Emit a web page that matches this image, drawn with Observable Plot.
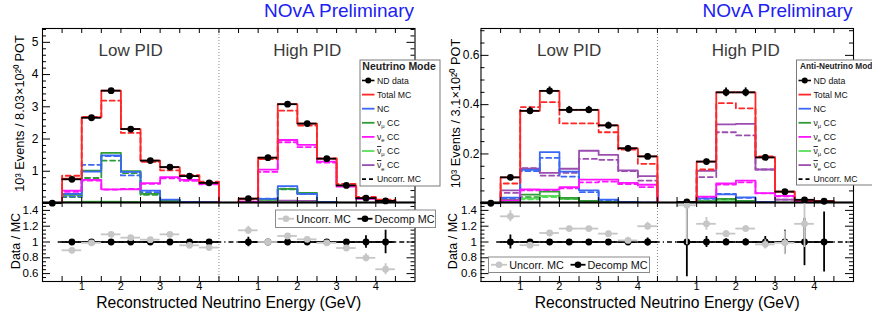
<!DOCTYPE html>
<html><head><meta charset="utf-8">
<script src="https://cdn.jsdelivr.net/npm/d3@7"></script>
<script src="https://cdn.jsdelivr.net/npm/@observablehq/plot@0.6"></script>
<style>
body{margin:0;background:#fff;font-family:"Liberation Sans",Arial,sans-serif;}
#root{position:relative;width:872px;height:320px;overflow:hidden;background:#fff;}
#root svg{position:absolute;}
</style></head><body><div id="root"></div>
<script>
// ---------- binning / axis ----------
const binLo = [0, 0.5, 1, 1.5, 2, 2.5, 3, 3.5, 4];
const binW = 0.5;
const sectionOffsets = [0, 4.5];
const sectionCenters = [2.25, 6.75];
const sectionLabels = ["Low PID", "High PID"];
const dividerX = [4.5];
const xDomain = [0, 9.5];
const xTickPos = [1, 2, 3, 4, 5.5, 6.5, 7.5, 8.5];
const xTickLabels = ["1", "2", "3", "4", "1", "2", "3", "4"];
const xMinorTicks = [0.5,1,1.5,2,2.5,3,3.5,4,4.5,5,5.5,6,6.5,7,7.5,8,8.5,9];
const refLineX = [0.4, 9.5];
const ratioYDomain = [0.5, 1.5];
const ratioYTicks = [0.6, 0.8, 1, 1.2, 1.4];
const ratioYLabels = ["0.6", "0.8", "1", "1.2", "1.4"];

// ---------- Neutrino mode, Low PID ----------
const nuLowData     = [0.01, 0.75, 2.66, 3.50, 2.31, 1.33, 1.13, 0.85, 0.64];
const nuLowErr      = [0, 0.02, 0.04, 0.05, 0.04, 0.03, 0.03, 0.03, 0.02];
const nuLowTotal    = [0, 0.77, 2.67, 3.50, 2.31, 1.33, 1.12, 0.85, 0.64];
const nuLowUncorr   = [0, 0.86, 2.69, 3.19, 2.19, 1.29, 1.03, 0.88, 0.68];
const nuLowNC       = [0, 0.30, 0.99, 1.49, 0.98, 0.40, 0.12, 0.05, 0.03];
const nuLowNCU      = [0, 0.22, 1.20, 1.47, 0.87, 0.35, 0.10, 0.04, 0.03];
const nuLowNumu     = [0, 0.27, 1.02, 1.57, 1.00, 0.30, 0.08, 0.03, 0.02];
const nuLowNumuU    = [0, 0.20, 0.79, 1.33, 0.94, 0.27, 0.07, 0.03, 0.02];
const nuLowNue      = [0, 0.40, 0.73, 0.44, 0.44, 0.63, 0.82, 0.73, 0.61];
const nuLowNueU     = [0, 0.36, 0.71, 0.43, 0.45, 0.61, 0.78, 0.70, 0.59];
const nuLowNumubar  = [0, 0.03, 0.06, 0.06, 0.05, 0.03, 0.02, 0.01, 0.01];
const nuLowNumubarU = [0, 0.03, 0.05, 0.05, 0.05, 0.03, 0.02, 0.01, 0.01];
const nuLowNuebar   = [0, 0.02, 0.04, 0.04, 0.04, 0.05, 0.06, 0.05, 0.04];
const nuLowNuebarU  = [0, 0.02, 0.04, 0.04, 0.04, 0.05, 0.05, 0.05, 0.04];
// ---------- Neutrino mode, High PID ----------
const nuHighData     = [null, 0.15, 1.42, 3.08, 2.48, 1.39, 0.56, 0.165, 0.08];
const nuHighErr      = [0, 0.01, 0.03, 0.05, 0.04, 0.03, 0.02, 0.01, 0.01];
const nuHighTotal    = [0, 0.15, 1.42, 3.08, 2.48, 1.39, 0.56, 0.165, 0.08];
const nuHighUncorr   = [0, 0.13, 1.38, 2.88, 2.42, 1.40, 0.61, 0.20, 0.12];
const nuHighNC       = [0, 0.02, 0.14, 0.54, 0.30, 0.05, 0.02, 0.01, 0];
const nuHighNCU      = [0, 0.02, 0.15, 0.46, 0.29, 0.05, 0.02, 0.01, 0];
const nuHighNumu     = [0, 0.02, 0.11, 0.45, 0.33, 0.04, 0.01, 0, 0];
const nuHighNumuU    = [0, 0.02, 0.12, 0.44, 0.31, 0.04, 0.01, 0, 0];
const nuHighNue      = [0, 0.06, 1.05, 1.97, 1.82, 1.30, 0.52, 0.14, 0.07];
const nuHighNueU     = [0, 0.05, 0.98, 1.90, 1.75, 1.27, 0.54, 0.16, 0.08];
const nuHighNumubar  = [0, 0, 0.02, 0.03, 0.03, 0.01, 0, 0, 0];
const nuHighNumubarU = [0, 0, 0.02, 0.03, 0.03, 0.01, 0, 0, 0];
const nuHighNuebar   = [0, 0.01, 0.05, 0.09, 0.08, 0.05, 0.02, 0.01, 0];
const nuHighNuebarU  = [0, 0.01, 0.05, 0.08, 0.07, 0.05, 0.02, 0.01, 0];
// ---------- Neutrino mode ratios ----------
const nuLowRatioU      = [null, 0.895, 0.99, 1.097, 1.055, 1.03, 1.097, 0.958, 0.93];
const nuLowRatioUErr   = [0, 0.02, 0.02, 0.02, 0.02, 0.02, 0.02, 0.02, 0.02];
const nuLowRatioD      = [null, 1, 1, 1, 1, 1, 1, 1, 1];
const nuLowRatioDErr   = [0, 0.02, 0.015, 0.015, 0.015, 0.02, 0.02, 0.02, 0.02];
const nuHighRatioU     = [null, 1.148, 1.0, 1.076, 1.034, 0.99, 0.924, 0.80, 0.655];
const nuHighRatioUErr  = [0, 0.05, 0.02, 0.02, 0.02, 0.02, 0.03, 0.05, 0.07];
const nuHighRatioD     = [null, 1, 1, 1, 1, 1, 1, 1, 1];
const nuHighRatioDErr  = [0, 0.06, 0.02, 0.015, 0.015, 0.02, 0.03, 0.08, 0.15];

// ---------- Anti-neutrino mode, Low PID ----------
const anLowData     = [0, 0.105, 0.375, 0.456, 0.379, 0.379, 0.316, 0.223, 0.19];
const anLowErr      = [0, 0.008, 0.014, 0.016, 0.014, 0.014, 0.013, 0.011, 0.01];
const anLowTotal    = [0, 0.105, 0.375, 0.456, 0.379, 0.379, 0.316, 0.223, 0.19];
const anLowUncorr   = [0, 0.080, 0.39, 0.41, 0.324, 0.324, 0.288, 0.218, 0.16];
const anLowNC       = [0, 0.023, 0.135, 0.207, 0.128, 0.052, 0.015, 0.005, 0.002];
const anLowNCU      = [0, 0.020, 0.130, 0.184, 0.108, 0.045, 0.013, 0.005, 0.002];
const anLowNumu     = [0, 0.014, 0.035, 0.047, 0.022, 0.010, 0.004, 0.002, 0.001];
const anLowNumuU    = [0, 0.010, 0.025, 0.030, 0.018, 0.008, 0.003, 0.001, 0.001];
const anLowNue      = [0, 0.012, 0.056, 0.055, 0.065, 0.096, 0.096, 0.083, 0.075];
const anLowNueU     = [0, 0.010, 0.052, 0.050, 0.060, 0.085, 0.088, 0.078, 0.065];
const anLowNumubar  = [0, 0.008, 0.020, 0.030, 0.020, 0.008, 0.003, 0.001, 0];
const anLowNumubarU = [0, 0.006, 0.016, 0.025, 0.017, 0.007, 0.003, 0.001, 0];
const anLowNuebar   = [0, 0.052, 0.140, 0.123, 0.140, 0.213, 0.196, 0.133, 0.110];
const anLowNuebarU  = [0, 0.042, 0.142, 0.112, 0.123, 0.180, 0.176, 0.130, 0.092];
// ---------- Anti-neutrino mode, High PID ----------
const anHighData     = [null, 0.005, 0.169, 0.45, 0.45, 0.186, 0.047, 0.014, 0.008];
const anHighErr      = [0, 0.003, 0.010, 0.018, 0.018, 0.011, 0.006, 0.003, 0.002];
const anHighTotal    = [0, 0.005, 0.169, 0.45, 0.45, 0.186, 0.047, 0.014, 0.008];
const anHighUncorr   = [0, 0.0035, 0.137, 0.406, 0.385, 0.19, 0.047, 0.011, 0.008];
const anHighNC       = [0, 0.001, 0.020, 0.036, 0.024, 0.005, 0.001, 0, 0];
const anHighNCU      = [0, 0.001, 0.018, 0.038, 0.022, 0.005, 0.001, 0, 0];
const anHighNumu     = [0, 0, 0.008, 0.018, 0.010, 0.002, 0, 0, 0];
const anHighNumuU    = [0, 0, 0.007, 0.016, 0.009, 0.002, 0, 0, 0];
const anHighNue      = [0, 0.001, 0.027, 0.080, 0.092, 0.041, 0.030, 0.008, 0.005];
const anHighNueU     = [0, 0.001, 0.025, 0.076, 0.085, 0.040, 0.028, 0.007, 0.005];
const anHighNumubar  = [0, 0, 0.004, 0.008, 0.006, 0.002, 0, 0, 0];
const anHighNumubarU = [0, 0, 0.004, 0.007, 0.005, 0.002, 0, 0, 0];
const anHighNuebar   = [0, 0.002, 0.131, 0.320, 0.322, 0.137, 0.015, 0.004, 0.002];
const anHighNuebarU  = [0, 0.002, 0.106, 0.288, 0.275, 0.137, 0.015, 0.004, 0.002];
// ---------- Anti-neutrino mode ratios ----------
const anLowRatioU     = [null, 1.325, 0.96, 1.114, 1.17, 1.17, 1.106, 1.02, 1.2];
const anLowRatioUErr  = [0, 0.07, 0.03, 0.03, 0.03, 0.03, 0.03, 0.04, 0.05];
const anLowRatioD     = [null, 1, 1, 1, 1, 1, 1, 1, 1];
const anLowRatioDErr  = [0, 0.09, 0.03, 0.02, 0.02, 0.02, 0.03, 0.04, 0.05];
const anHighRatioU    = [null, 1.465, 1.23, 1.106, 1.17, 0.97, 0.99, 1.23, null];
const anHighRatioUErr = [0, 0.5, 0.08, 0.04, 0.04, 0.06, 0.15, 0.3, 0];
const anHighRatioD    = [null, 1, 1, 1, 1, 1, 1, 1, 1];
const anHighRatioDErr = [0, 0.44, 0.07, 0.04, 0.04, 0.07, 0.15, 0.3, 0.38];

// ---------- styling ----------
const C = {total: "#ff2626", NC: "#3a68f4", numu: "#2f9c35", nue: "#ff14ff",
           numubar: "#5ade5a", nuebar: "#9a4eb0", gray: "#c6c6c6", title: "#2020f2"};
const FONT = "Liberation Sans, Arial, Helvetica, sans-serif";
const W = 436;

const compKeys = ["nuebar", "numubar", "numu", "NC", "nue"];
function section(data, err, total, totalU, NC, NCU, numu, numuU, nue, nueU, numubar, numubarU, nuebar, nuebarU) {
  return {data, err, total, totalU,
    comp: {NC, numu, nue, numubar, nuebar},
    compU: {NC: NCU, numu: numuU, nue: nueU, numubar: numubarU, nuebar: nuebarU}};
}
const panels = [
  {left: 0, mL: 42, mR: 21.5, yDomain: [0.03, 5.43], yMajor: [1, 2, 3, 4, 5], yMajorLabels: ["1","2","3","4","5"],
   yMinorStep: 0.2, yLabelPad: 4, yTitle: "10³ Events / 8.03×10²⁰ POT", yTitleDx: -23, rTitleDx: -27,
   sections: [
     section(nuLowData, nuLowErr, nuLowTotal, nuLowUncorr, nuLowNC, nuLowNCU, nuLowNumu, nuLowNumuU, nuLowNue, nuLowNueU, nuLowNumubar, nuLowNumubarU, nuLowNuebar, nuLowNuebarU),
     section(nuHighData, nuHighErr, nuHighTotal, nuHighUncorr, nuHighNC, nuHighNCU, nuHighNumu, nuHighNumuU, nuHighNue, nuHighNueU, nuHighNumubar, nuHighNumubarU, nuHighNuebar, nuHighNuebarU)],
   ratios: [
     {u: nuLowRatioU, ue: nuLowRatioUErr, d: nuLowRatioD, de: nuLowRatioDErr},
     {u: nuHighRatioU, ue: nuHighRatioUErr, d: nuHighRatioD, de: nuHighRatioDErr}]},
  {left: 436, mL: 44.5, mR: 19, yDomain: [0.003, 0.709], yMajor: [0.2, 0.4, 0.6], yMajorLabels: ["0.2","0.4","0.6"],
   yMinorStep: 0.05, yLabelPad: 1.5, yTitle: "10³ Events / 3.1×10²⁰ POT", yTitleDx: -25.5, rTitleDx: -28.5,
   sections: [
     section(anLowData, anLowErr, anLowTotal, anLowUncorr, anLowNC, anLowNCU, anLowNumu, anLowNumuU, anLowNue, anLowNueU, anLowNumubar, anLowNumubarU, anLowNuebar, anLowNuebarU),
     section(anHighData, anHighErr, anHighTotal, anHighUncorr, anHighNC, anHighNCU, anHighNumu, anHighNumuU, anHighNue, anHighNueU, anHighNumubar, anHighNumubarU, anHighNuebar, anHighNuebarU)],
   ratios: [
     {u: anLowRatioU, ue: anLowRatioUErr, d: anLowRatioD, de: anLowRatioDErr},
     {u: anHighRatioU, ue: anHighRatioUErr, d: anHighRatioD, de: anHighRatioDErr}]}
];

function hist(vals, off) {
  const rows = [{x: binLo[0] + off, y: 0}];
  vals.forEach((v, i) => rows.push({x: binLo[i] + off, y: v}));
  rows.push({x: binLo[binLo.length - 1] + binW + off, y: 0});
  return rows;
}
function points(vals, errs, off) {
  const rows = [];
  vals.forEach((v, i) => { if (v != null) rows.push({c: binLo[i] + binW / 2 + off, lo: binLo[i] + off, hi: binLo[i] + binW + off, v, e: errs[i]}); });
  return rows;
}
function minorTicks(dom, step, majors) {
  const out = [];
  for (let k = Math.ceil(dom[0] / step); k * step <= dom[1] + 1e-9; k++) {
    const v = +(k * step).toFixed(4);
    if (!majors.some(m => Math.abs(m - v) < 1e-6)) out.push(v);
  }
  return out;
}
function frameTicks(innerW, innerH, yMaj, yMin) {
  const s = {stroke: "black", strokeWidth: 1};
  return [
    Plot.ruleY(yMaj, {y: d => d, insetRight: innerW - 8, ...s}),
    Plot.ruleY(yMaj, {y: d => d, insetLeft: innerW - 8, ...s}),
    Plot.ruleY(yMin, {y: d => d, insetRight: innerW - 4, ...s}),
    Plot.ruleY(yMin, {y: d => d, insetLeft: innerW - 4, ...s}),
    Plot.ruleX(xMinorTicks, {x: d => d, insetTop: innerH - 5, ...s}),
    Plot.ruleX(xMinorTicks, {x: d => d, insetBottom: innerH - 5, ...s})
  ];
}

const root = document.getElementById("root");

panels.forEach(P => {
  // ---------------- top panel ----------------
  const H = 203, mT = 28, mB = 1;
  const innerW = W - P.mL - P.mR, innerH = H - mT - mB;
  const marks = [Plot.ruleX(dividerX, {x: d => d, stroke: "#8a8a8a", strokeDasharray: "1,2"})];
  P.sections.forEach((S, si) => {
    const off = sectionOffsets[si];
    compKeys.forEach(k => marks.push(Plot.line(hist(S.compU[k], off), {x: "x", y: "y", curve: "step-after", stroke: C[k], strokeWidth: 1.8, strokeDasharray: "5,3.5", clip: true})));
    compKeys.forEach(k => marks.push(Plot.line(hist(S.comp[k], off), {x: "x", y: "y", curve: "step-after", stroke: C[k], strokeWidth: 1.8, clip: true})));
    marks.push(Plot.line(hist(S.totalU, off), {x: "x", y: "y", curve: "step-after", stroke: C.total, strokeWidth: 1.8, strokeDasharray: "5,3.5", clip: true}));
    marks.push(Plot.line(hist(S.total, off), {x: "x", y: "y", curve: "step-after", stroke: C.total, strokeWidth: 1.8, clip: true}));
    const pts = points(S.data, S.err, off);
    marks.push(Plot.ruleY(pts, {y: "v", x1: "lo", x2: "hi", stroke: "black", strokeWidth: 1.8}));
    marks.push(Plot.ruleX(pts, {x: "c", y1: d => d.v - d.e, y2: d => d.v + d.e, stroke: "black", strokeWidth: 1.8}));
    marks.push(Plot.dot(pts, {x: "c", y: "v", r: 3.4, fill: "black", stroke: "none"}));
  });
  marks.push(...frameTicks(innerW, innerH, P.yMajor, minorTicks(P.yDomain, P.yMinorStep, P.yMajor)));
  marks.push(Plot.frame({stroke: "black", strokeWidth: 1.1}));
  marks.push(Plot.ruleY([P.yDomain[0]], {y: d => d, stroke: "black", strokeWidth: 2.2}));
  marks.push(Plot.axisY(P.yMajor, {anchor: "left", tickSize: 0, tickPadding: P.yLabelPad, fontSize: 12, label: null,
    tickFormat: d => P.yMajorLabels[P.yMajor.indexOf(d)]}));
  marks.push(Plot.text(sectionLabels, {x: (d, i) => sectionCenters[i], frameAnchor: "top", lineAnchor: "middle", dy: 22, text: d => d, fontSize: 17, fill: "#3a3a3a"}));
  marks.push(Plot.text(["NOvA Preliminary"], {frameAnchor: "top-right", textAnchor: "end", lineAnchor: "middle", dy: -17.5, dx: -1, text: d => d, fontSize: 19, fill: C.title}));
  marks.push(Plot.text([P.yTitle], {frameAnchor: "left", textAnchor: "middle", lineAnchor: "middle", rotate: -90, dx: P.yTitleDx, dy: -2, text: d => d, fontSize: 12.8}));
  const top = Plot.plot({
    width: W, height: H, marginLeft: P.mL, marginRight: P.mR, marginTop: mT, marginBottom: mB,
    x: {domain: xDomain, axis: null}, y: {domain: P.yDomain, axis: null},
    style: {background: "transparent", overflow: "visible", fontFamily: FONT},
    marks
  });
  top.style.left = P.left + "px"; top.style.top = "0px";
  root.appendChild(top);

  // ---------------- ratio panel ----------------
  const RH = 125, rT = 7, rB = 39;
  const rInnerH = RH - rT - rB;
  const rm = [
    Plot.ruleX(dividerX, {x: d => d, stroke: "#8a8a8a", strokeDasharray: "1,2"}),
    Plot.ruleY([1], {y: d => d, x1: refLineX[0], x2: refLineX[1], stroke: "black", strokeWidth: 1.3, strokeDasharray: "5,3,1.2,3"})
  ];
  P.ratios.forEach((R, si) => {
    const off = sectionOffsets[si];
    const d = points(R.d, R.de, off);
    rm.push(Plot.ruleY(d, {y: "v", x1: "lo", x2: "hi", stroke: "black", strokeWidth: 1.8}));
    rm.push(Plot.ruleX(d, {x: "c", y1: q => q.v - q.e, y2: q => q.v + q.e, stroke: "black", strokeWidth: 1.8, clip: true}));
    rm.push(Plot.dot(d, {x: "c", y: "v", r: 3.4, fill: "black", stroke: "none"}));
  });
  P.ratios.forEach((R, si) => {
    const off = sectionOffsets[si];
    const u = points(R.u, R.ue, off);
    rm.push(Plot.ruleY(u, {y: "v", x1: "lo", x2: "hi", stroke: C.gray, strokeWidth: 1.8}));
    rm.push(Plot.ruleX(u, {x: "c", y1: q => q.v - q.e, y2: q => q.v + q.e, stroke: C.gray, strokeWidth: 1.8, clip: true}));
    rm.push(Plot.dot(u, {x: "c", y: "v", r: 3.4, fill: C.gray, stroke: "none"}));
  });
  rm.push(...frameTicks(innerW, rInnerH, ratioYTicks, minorTicks(ratioYDomain, 0.05, ratioYTicks)));
  rm.push(Plot.frame({stroke: "black", strokeWidth: 1.1}));
  rm.push(Plot.axisY(ratioYTicks, {anchor: "left", tickSize: 0, tickPadding: 4, fontSize: 11.5, label: null,
    tickFormat: d => ratioYLabels[ratioYTicks.indexOf(d)]}));
  rm.push(Plot.axisX(xTickPos, {anchor: "bottom", tickSize: 0, tickPadding: 1, fontSize: 11, label: null,
    tickFormat: d => xTickLabels[xTickPos.indexOf(d)]}));
  rm.push(Plot.text(["Reconstructed Neutrino Energy (GeV)"], {frameAnchor: "bottom", textAnchor: "middle", lineAnchor: "middle", dy: 21.5, text: d => d, fontSize: 15.7}));
  rm.push(Plot.text(["Data / MC"], {frameAnchor: "left", textAnchor: "middle", lineAnchor: "middle", rotate: -90, dx: P.rTitleDx, dy: -1, text: d => d, fontSize: 12.5}));
  const ratio = Plot.plot({
    width: W, height: RH, marginLeft: P.mL, marginRight: P.mR, marginTop: rT, marginBottom: rB,
    x: {domain: xDomain}, y: {domain: ratioYDomain},
    style: {background: "transparent", overflow: "visible", fontFamily: FONT},
    marks: rm
  });
  ratio.style.left = P.left + "px"; ratio.style.top = "195px";
  root.appendChild(ratio);
});

// ---------------- legends (overlay) ----------------
const leg = d3.select(root).append("svg").attr("width", 872).attr("height", 320)
  .style("left", "0px").style("top", "0px").style("font-family", FONT);

const legendEntries = [
  {kind: "data", parts: [["ND data"]]},
  {kind: "line", color: C.total, parts: [["Total MC"]]},
  {kind: "line", color: C.NC, parts: [["NC"]]},
  {kind: "line", color: C.numu, parts: [["ν"], ["μ", "sub"], [" CC"]]},
  {kind: "line", color: C.nue, parts: [["ν"], ["e", "sub"], [" CC"]]},
  {kind: "line", color: C.numubar, parts: [["ν", "bar"], ["μ", "sub"], [" CC"]]},
  {kind: "line", color: C.nuebar, parts: [["ν", "bar"], ["e", "sub"], [" CC"]]},
  {kind: "dash", color: "#000", parts: [["Uncorr. MC"]]}
];
const legendBoxes = [
  {x: 360, y: 60, w: 80, h: 126, title: "Neutrino Mode", titleSize: 10.5, titleDx: 2.3},
  {x: 796.5, y: 60, w: 80, h: 125, title: "Anti-Neutrino Mode", titleSize: 8.3, titleDx: 3.5}
];
legendBoxes.forEach(B => {
  const g = leg.append("g");
  g.append("rect").attr("x", B.x).attr("y", B.y).attr("width", B.w).attr("height", B.h)
    .attr("fill", "white").attr("stroke", "#7a7a7a").attr("stroke-width", 1);
  g.append("text").attr("x", B.x + B.titleDx).attr("y", B.y + 6.5).attr("dy", "0.35em")
    .attr("font-size", B.titleSize).attr("font-weight", "bold").attr("fill", "#222").text(B.title);
  legendEntries.forEach((E, i) => {
    const cy = B.y + 20.5 + i * 14.1;
    const x0 = B.x + 2, x1 = B.x + 14.5;
    if (E.kind === "data") {
      g.append("line").attr("x1", x0).attr("x2", x1).attr("y1", cy).attr("y2", cy).attr("stroke", "black").attr("stroke-width", 1.6);
      g.append("circle").attr("cx", (x0 + x1) / 2).attr("cy", cy).attr("r", 3).attr("fill", "black");
    } else {
      g.append("line").attr("x1", x0).attr("x2", x1).attr("y1", cy).attr("y2", cy).attr("stroke", E.color)
        .attr("stroke-width", 1.8).attr("stroke-dasharray", E.kind === "dash" ? "4,3" : null);
    }
    const t = g.append("text").attr("x", B.x + 17).attr("y", cy).attr("dy", "0.35em").attr("font-size", 8.7).attr("fill", "#111");
    E.parts.forEach(([s, mode]) => {
      const ts = t.append("tspan").text(s);
      if (mode === "sub") ts.attr("font-size", 5.8).attr("dy", 2.4);
      else if (mode === "bar") ts.style("text-decoration", "overline");
      else if (s.startsWith(" ") && E.parts.length > 1) ts.attr("dy", -2.4);
    });
  });
});

const ratioLegendBoxes = [
  {x: 275.5, y: 210, w: 160, h: 17.5},
  {x: 488.5, y: 257, w: 161, h: 15.5}
];
const ratioLegendEntries = [
  {color: C.gray, label: "Uncorr. MC", x0: 2.5, x1: 18.5, tx: 20.8},
  {color: "black", label: "Decomp MC", x0: 82, x1: 97, tx: 99}
];
ratioLegendBoxes.forEach(B => {
  const g = leg.append("g");
  g.append("rect").attr("x", B.x).attr("y", B.y).attr("width", B.w).attr("height", B.h)
    .attr("fill", "white").attr("stroke", "#8a8a8a").attr("stroke-width", 1);
  const cy = B.y + B.h / 2;
  ratioLegendEntries.forEach(E => {
    g.append("line").attr("x1", B.x + E.x0).attr("x2", B.x + E.x1).attr("y1", cy).attr("y2", cy).attr("stroke", E.color).attr("stroke-width", 1.8);
    g.append("circle").attr("cx", B.x + (E.x0 + E.x1) / 2).attr("cy", cy).attr("r", 3.3).attr("fill", E.color);
    g.append("text").attr("x", B.x + E.tx).attr("y", cy).attr("dy", "0.35em").attr("font-size", 10.8).attr("fill", "#111").text(E.label);
  });
});
</script>
</body></html>
